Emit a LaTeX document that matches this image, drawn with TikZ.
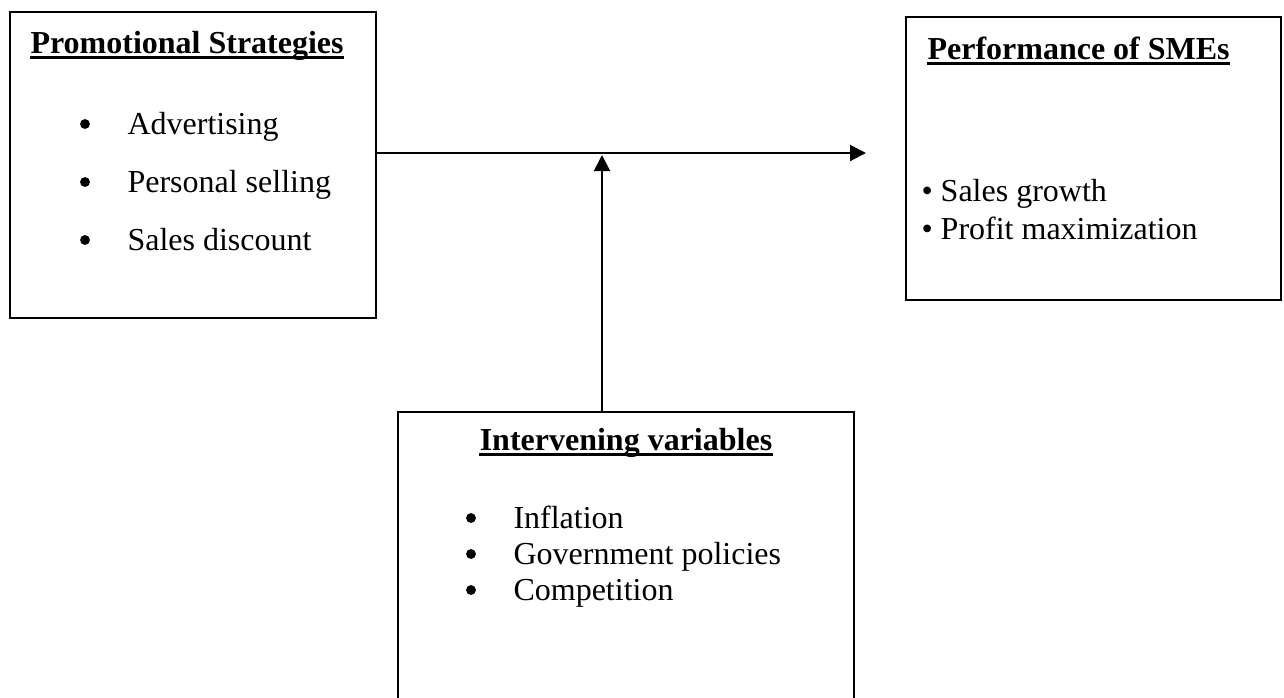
\documentclass[tikz,border=0pt]{standalone}
\usepackage{fontspec}
\setmainfont{Liberation Serif}
\usetikzlibrary{arrows.meta}

\tikzset{
    box/.style={draw, line width=0.75pt, inner sep=0pt},
    txt/.style={anchor=base west, inner sep=0pt},
    dot/.style={circle, fill, inner sep=0pt, minimum size=3.7pt},
    ul/.style={line width=1.1pt},
    arr/.style={-{Triangle[length=6pt,width=6pt]}, line width=0.75pt}
}
\def\uldepth{-1.6pt}

\begin{document}
\begin{tikzpicture}[x=0.375pt, y=-0.375pt, font=\fontsize{12}{14}\selectfont]
                \useasboundingbox (0,0) rectangle (1284,697);
                \clip (0,0) rectangle (1284,697);
                % draw rectangle nodes
                \node[box,
                    minimum width=137.25pt,
                    minimum height=114.75pt] (promo) at (193,165) {};
                \node[box,
                    minimum width=140.6pt,
                    minimum height=106.1pt] (perf) at (1093.5,158.5) {};
                \node[box,
                    minimum width=171pt,
                    minimum height=145.5pt] (interv) at (626,606) {};
                % Box contents
                \node[txt] (promotitle) at (30,53) {\textbf{Promotional Strategies}};
                \node[dot] (advdot) at (85,124) {};
                \node[txt] (adv) at (127,134) {Advertising};
                \node[dot] (persdot) at (85,182) {};
                \node[txt] (pers) at (127,192) {Personal selling};
                \node[dot] (discdot) at (85,240) {};
                \node[txt] (disc) at (127,250) {Sales discount};
                \node[txt] (perftitle) at (927,59) {\textbf{Performance of SMEs}};
                \node[txt] (growth) at (921,201) {\textbullet\ Sales growth};
                \node[txt] (profit) at (921,239) {\textbullet\ Profit maximization};
                \node[anchor=base, inner sep=0pt] (intervtitle) at (626,450) {\textbf{Intervening variables}};
                \node[dot] (infldot) at (471,518) {};
                \node[txt] (infl) at (513,528) {Inflation};
                \node[dot] (govdot) at (471,554) {};
                \node[txt] (gov) at (513,564) {Government policies};
                \node[dot] (compdot) at (471,590) {};
                \node[txt] (comp) at (513,600) {Competition};
                % underline titles
                \foreach \t in {promotitle, perftitle, intervtitle}
                    \draw[ul] ([yshift=\uldepth]\t.base west) -- ([yshift=\uldepth]\t.base east);
                % Draw edges
                \coordinate (joint) at (602,155);
                \coordinate (tip) at (866,153);
                \draw[arr] (promo.east |- tip) -- (tip);
                \draw[arr] (interv.north -| joint) -- (joint);
        \end{tikzpicture}
\end{document}
